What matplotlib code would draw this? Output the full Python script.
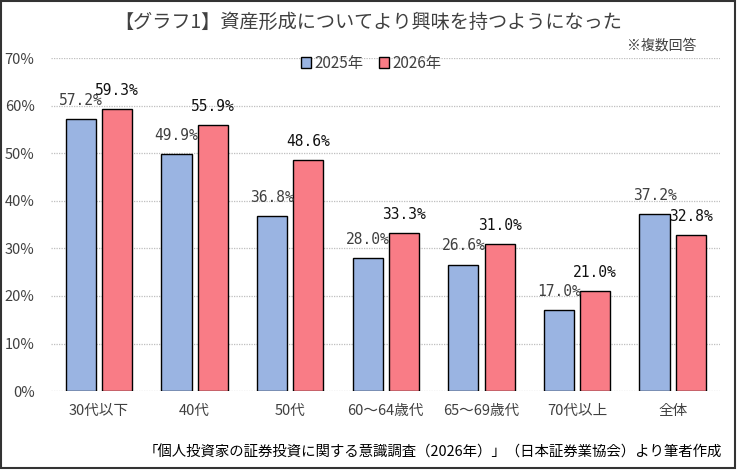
import numpy as np
import matplotlib.pyplot as plt
from matplotlib.patches import Rectangle

plt.rcParams['font.family'] = ['Noto Sans CJK JP', 'DejaVu Sans']

categories = ['30代以下', '40代', '50代', '60～64歳代', '65～69歳代', '70代以上', '全体']
vals_2025 = [57.2, 49.9, 36.8, 28.0, 26.6, 17.0, 37.2]
vals_2026 = [59.3, 55.9, 48.6, 33.3, 31.0, 21.0, 32.8]
series_names = ['2025年', '2026年']
yticks = [0, 10, 20, 30, 40, 50, 60, 70]

text_color = '#404040'
blue = '#9AB4E2'
red = '#F97C86'


def main():
    fig = plt.figure(figsize=(7.37, 4.70), dpi=100)
    ax = fig.add_axes([0.0695, 0.168, 0.908, 0.708])

    x = np.arange(len(categories))
    w = 0.315
    off = 0.19
    b1 = ax.bar(x - off, vals_2025, width=w, color=blue, edgecolor='black',
                linewidth=1.0, label=series_names[0], zorder=3)
    b2 = ax.bar(x + off, vals_2026, width=w, color=red, edgecolor='black',
                linewidth=1.0, label=series_names[1], zorder=3)

    for rect, v in zip(b1, vals_2025):
        ax.annotate(f'{v:.1f}%', (rect.get_x() + rect.get_width() / 2, v),
                    xytext=(0, 8), textcoords='offset points',
                    ha='center', va='bottom', fontsize=10.5,
                    family='DejaVu Sans Mono', color=text_color)
    for rect, v in zip(b2, vals_2026):
        ax.annotate(f'{v:.1f}%', (rect.get_x() + rect.get_width() / 2, v),
                    xytext=(0, 8), textcoords='offset points',
                    ha='center', va='bottom', fontsize=10.5,
                    family='DejaVu Sans Mono', color='#111111')

    ax.set_xlim(-0.5, len(categories) - 0.5)
    ax.set_ylim(0, 70)
    ax.set_yticks(yticks)
    ax.set_yticklabels([f'{t}%' for t in yticks])
    ax.set_xticks(x)
    ax.set_xticklabels(categories)
    ax.tick_params(axis='both', length=0, labelsize=10.5, colors=text_color)
    ax.tick_params(axis='x', pad=9)
    ax.tick_params(axis='y', pad=12)
    ax.yaxis.grid(True, color='#BFBFBF', linestyle=(0, (1, 1)), linewidth=0.9)
    ax.set_axisbelow(True)
    for s in ax.spines.values():
        s.set_visible(False)

    fig.text(0.5, 0.953, '【グラフ1】資産形成についてより興味を持つようになった',
             ha='center', va='center', fontsize=13.8, color=text_color)
    fig.text(0.945, 0.902, '※複数回答', ha='right', va='center',
             fontsize=10, color=text_color)
    fig.text(0.98, 0.038,
             '「個人投資家の証券投資に関する意識調査（2026年）」（日本証券業協会）より筆者作成',
             ha='right', va='center', fontsize=10.4, color='black')

    leg = ax.legend(loc='center', bbox_to_anchor=(0.478, 0.985), ncol=2,
                    frameon=False, fontsize=11, handlelength=0.7,
                    handleheight=0.7, handletextpad=0.2, columnspacing=1.0)
    for t in leg.get_texts():
        t.set_color(text_color)

    fig.patches.append(Rectangle((0.002, 0.004), 0.995, 0.993,
                                 transform=fig.transFigure, fill=False,
                                 edgecolor='#333333', linewidth=1.5))

    fig.savefig('out.png', dpi=100)


if __name__ == '__main__':
    main()
